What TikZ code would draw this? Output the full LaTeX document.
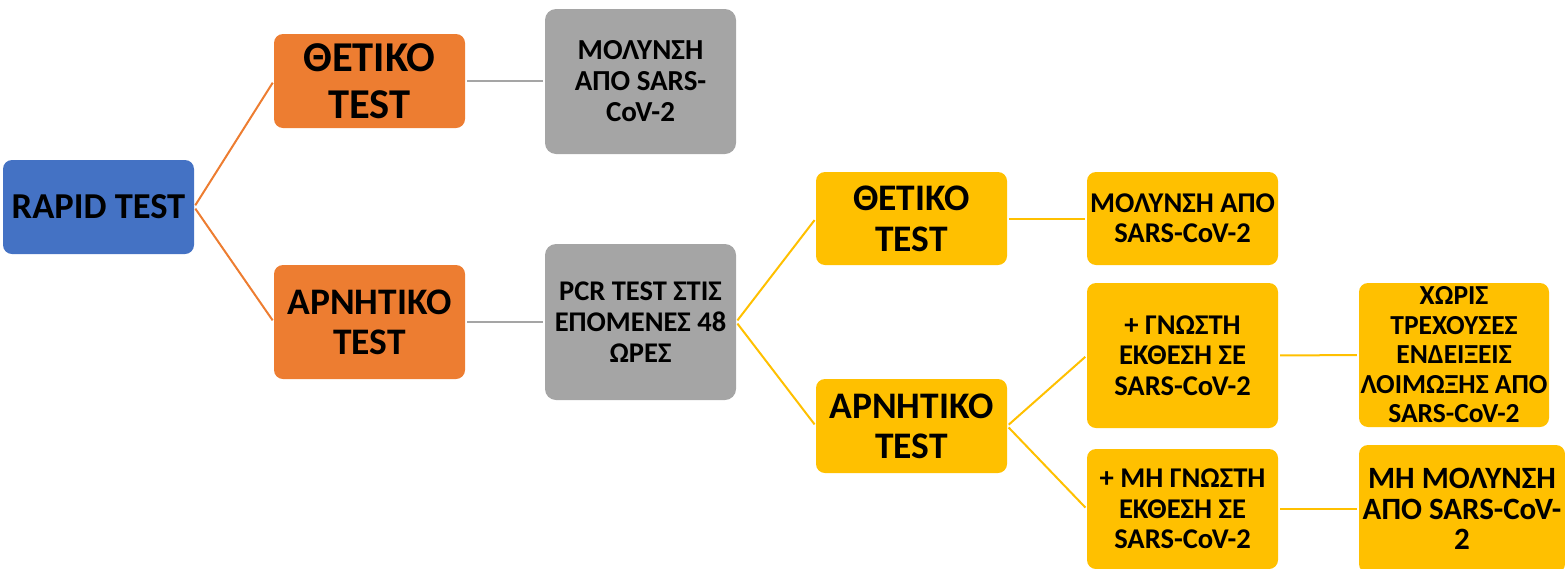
\documentclass[tikz,border=0pt]{standalone}
\usepackage{fontspec}
\setmainfont{Carlito}
\definecolor{cblue}{HTML}{4472C4}
\definecolor{corange}{HTML}{ED7D31}
\definecolor{cgray}{HTML}{A5A5A5}
\definecolor{cyellow}{HTML}{FFC000}
\newcommand{\fs}[2]{\fontsize{#1}{#2}\selectfont\bfseries}
\tikzset{
  box/.style={rounded corners=9pt, inner sep=0pt, align=center, text=black,
    minimum width=191pt},
  bluebox/.style={box, fill=cblue},
  orangebox/.style={box, fill=corange},
  graybox/.style={box, fill=cgray},
  yellowbox/.style={box, fill=cyellow},
  link/.style={line width=2pt, shorten <=2pt, shorten >=2pt},
}
\begin{document}
\begin{tikzpicture}[x=1pt, y=-1pt]
\clip (0,0) rectangle (1565,568);

% first stage: rapid test and its two outcomes
\node[bluebox, minimum height=94pt, font=\fs{36.5}{42}] (rapid) at (98.5,207) {RAPID TEST};
\node[orangebox, minimum height=94pt, font=\fs{42.5}{47}] (pos1) at (369.5,81) {ΘΕΤΙΚΟ\\TEST};
\node[orangebox, minimum height=114pt, font=\fs{37.5}{40}] (neg1) at (369.5,322) {ΑΡΝΗΤΙΚΟ\\TEST};

% second stage
\node[graybox, minimum height=145pt, rounded corners=11pt, font=\fs{29}{31}] (inf1) at (640.5,81.5) {ΜΟΛΥΝΣΗ\\ΑΠΟ SARS-\\CoV-2};
\node[graybox, minimum height=156pt, rounded corners=11pt, font=\fs{28.5}{31}] (pcr) at (640.5,322) {PCR TEST ΣΤΙΣ\\ΕΠΟΜΕΝΕΣ 48\\ΩΡΕΣ};

% PCR outcomes
\node[yellowbox, minimum height=93pt, font=\fs{37.5}{41}] (pos2) at (911.5,218.5) {ΘΕΤΙΚΟ\\TEST};
\node[yellowbox, minimum height=94pt, font=\fs{37.5}{40}] (neg2) at (911.5,426) {ΑΡΝΗΤΙΚΟ\\TEST};

% third stage
\node[yellowbox, minimum height=93pt, font=\fs{28.6}{30}] (inf2) at (1182.5,218.5) {ΜΟΛΥΝΣΗ ΑΠΟ\\SARS-CoV-2};
\node[yellowbox, minimum height=145pt, font=\fs{28.6}{30.5}] (known) at (1182.5,355.5) {+ ΓΝΩΣΤΗ\\ΕΚΘΕΣΗ ΣΕ\\SARS-CoV-2};
\node[yellowbox, minimum height=120pt, font=\fs{28.6}{30.5}] (unknown) at (1182.5,509) {+ ΜΗ ΓΝΩΣΤΗ\\ΕΚΘΕΣΗ ΣΕ\\SARS-CoV-2};

% final outcomes
\node[yellowbox, minimum width=190pt, minimum height=144pt, font=\fs{27.5}{29.5}] (nosign) at (1454,355) {ΧΩΡΙΣ\\ΤΡΕΧΟΥΣΕΣ\\ΕΝΔΕΙΞΕΙΣ\\ΛΟΙΜΩΞΗΣ ΑΠΟ\\SARS-CoV-2};
\node[yellowbox, minimum width=206pt, minimum height=128pt, font=\fs{31}{30.5}] (noinf) at (1462,509) {ΜΗ ΜΟΛΥΝΣΗ\\ΑΠΟ SARS-CoV-\\2};

% connectors
\draw[link, corange] (rapid.east) -- (pos1.west);
\draw[link, corange] (rapid.east) -- (neg1.west);
\draw[link, cgray] (pos1.east) -- (inf1.west |- pos1.east);
\draw[link, cgray] (neg1.east) -- (pcr.west);
\draw[link, cyellow] (pcr.east) -- (pos2.west);
\draw[link, cyellow] (pcr.east) -- (neg2.west);
\draw[link, cyellow] (pos2.east) -- (inf2.west);
\draw[link, cyellow] (neg2.east) -- (known.west);
\draw[link, cyellow] (neg2.east) -- (unknown.west);
\draw[link, cyellow] (known.east) -- (nosign.west);
\draw[link, cyellow] (unknown.east) -- (noinf.west);
\end{tikzpicture}
\end{document}
